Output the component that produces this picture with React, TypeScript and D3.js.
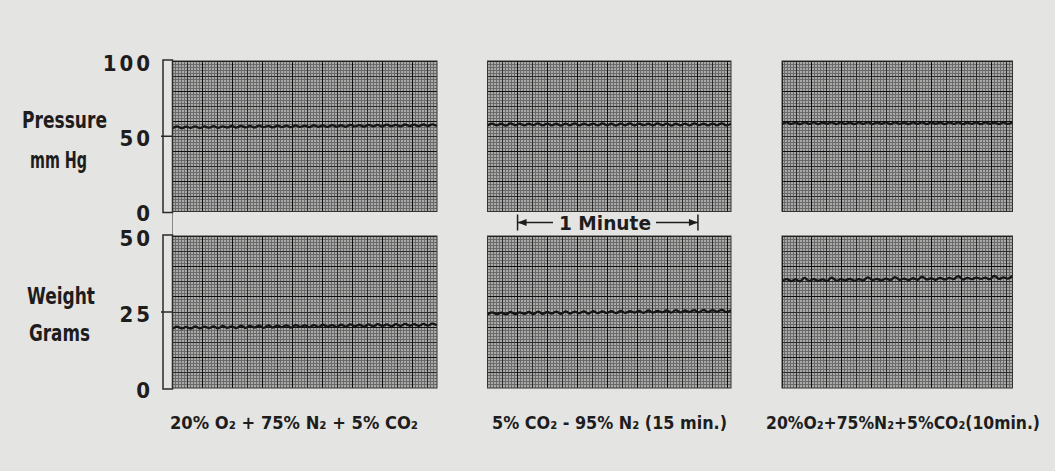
import React from 'react';
import * as d3 from 'd3';

// recording conditions
const conditions = [
  '20% O₂ + 75% N₂ + 5% CO₂',
  '5% CO₂ - 95% N₂ (15 min.)',
  '20%O₂+75%N₂+5%CO₂(10min.)',
];
// seconds of chart paper shown in each strip
const stripSeconds = [88, 81, 77];

const pressureTicks = [0, 50, 100];
const weightTicks = [0, 25, 50];

// traces, one sample every ~1.5 s
const pressureA = [
  55.3, 56.5, 55.4, 56.4, 55.6, 56.6, 55.5, 56.5, 55.7, 56.7,
  55.6, 56.6, 55.8, 56.8, 55.7, 56.9, 55.9, 56.8, 55.8, 57.0,
  56.0, 56.9, 55.9, 57.1, 56.1, 57.0, 56.0, 57.2, 56.2, 57.1,
  56.1, 57.3, 56.3, 57.2, 56.2, 57.4, 56.4, 57.3, 56.3, 57.5,
  56.5, 57.4, 56.4, 57.6, 56.6, 57.5, 56.5, 57.7, 56.7, 57.6,
  56.6, 57.8, 56.8, 57.7, 56.7, 57.8, 56.9, 57.9, 56.8,
];
const pressureB = [
  57.2, 58.4, 57.3, 58.3, 57.1, 58.5, 57.3, 58.4, 57.2, 58.3,
  57.4, 58.5, 57.2, 58.4, 57.3, 58.3, 57.1, 58.4, 57.3, 58.5,
  57.2, 58.3, 57.4, 58.4, 57.2, 58.5, 57.3, 58.3, 57.1, 58.4,
  57.3, 58.5, 57.2, 58.4, 57.4, 58.3, 57.2, 58.5, 57.3, 58.4,
  57.1, 58.3, 57.3, 58.4, 57.2, 58.5, 57.4, 58.3, 57.2, 58.4,
  57.3, 58.5, 57.2, 58.3,
];
const pressureC = [
  58.1, 59.2, 58.2, 59.1, 58.0, 59.3, 58.2, 59.2, 58.1, 59.1,
  58.3, 59.3, 58.1, 59.2, 58.2, 59.1, 58.0, 59.2, 58.2, 59.3,
  58.1, 59.1, 58.3, 59.2, 58.1, 59.3, 58.2, 59.1, 58.0, 59.2,
  58.2, 59.3, 58.1, 59.2, 58.3, 59.1, 58.1, 59.3, 58.2, 59.2,
  58.0, 59.1, 58.2, 59.3, 58.1, 59.2, 58.3, 59.1, 58.1, 59.2,
  58.2, 59.3,
];
const weightA = [
  19.5, 20.2, 19.6, 20.1, 19.5, 20.3, 19.6, 20.2, 19.7, 20.3,
  19.6, 20.4, 19.8, 20.3, 19.7, 20.5, 19.8, 20.4, 19.9, 20.5,
  19.8, 20.6, 19.9, 20.5, 20.0, 20.6, 19.9, 20.7, 20.1, 20.6,
  20.0, 20.7, 20.1, 20.8, 20.2, 20.7, 20.1, 20.8, 20.2, 20.9,
  20.3, 20.8, 20.2, 20.9, 20.3, 21.0, 20.4, 20.9, 20.3, 21.0,
  20.4, 21.1, 20.5, 21.0, 20.4, 21.1, 20.5, 21.2, 20.6,
];
const weightB = [
  24.2, 24.9, 24.3, 24.8, 24.2, 25.0, 24.3, 24.9, 24.4, 25.0,
  24.3, 25.1, 24.4, 25.0, 24.5, 25.1, 24.4, 25.2, 24.5, 25.1,
  24.6, 25.2, 24.5, 25.3, 24.6, 25.2, 24.7, 25.3, 24.6, 25.4,
  24.7, 25.3, 24.8, 25.4, 24.7, 25.5, 24.8, 25.4, 24.9, 25.5,
  24.8, 25.6, 24.9, 25.5, 25.0, 25.6, 24.9, 25.7, 25.0, 25.6,
  25.1, 25.7, 25.0, 25.6,
];
const weightC = [
  35.1, 35.8, 35.2, 35.7, 35.1, 36.2, 35.2, 35.8, 35.3, 35.7,
  35.2, 36.3, 35.3, 35.8, 35.4, 35.9, 35.3, 35.8, 35.4, 36.4,
  35.5, 35.9, 35.4, 36.0, 35.5, 36.5, 35.6, 36.0, 35.5, 36.1,
  35.6, 36.6, 35.7, 36.1, 35.6, 36.2, 35.7, 36.2, 35.8, 36.8,
  35.7, 36.2, 35.8, 36.3, 35.9, 36.3, 35.8, 36.9, 35.9, 36.4,
  36.0, 36.9,
];

const pressureSeries = [pressureA, pressureB, pressureC];
const weightSeries = [weightA, weightB, weightC];

// the "1 Minute" marker, in seconds of the middle strip
const minuteMark = [10, 70];

const W = 1055;
const H = 471;
const PAPER = '#e4e4e2';
const INK = '#1d1d1d';
const FONT = "'DejaVu Sans Condensed', 'DejaVu Sans', sans-serif";

const stripX = [[172.5, 437], [487.5, 731], [782, 1012.5]];
const topRow = [61, 211.5];
const bottomRow = [236, 388];

function Strip({ x, y, secs, yMax, minor, mid, heavy, values, id }) {
  const xs = d3.scaleLinear().domain([0, secs]).range(x);
  const ys = d3.scaleLinear().domain([0, yMax]).range([y[1], y[0]]);

  const vLines = d3.range(0, secs + 0.001, 1);
  const hLines = d3.range(0, yMax + 0.001, minor);
  const kind = (v, m, h) => {
    const r = Math.round(v * 100);
    if (r % Math.round(h * 100) === 0) return 2;
    if (r % Math.round(m * 100) === 0) return 1;
    return 0;
  };
  const strokes = ['#6a6a6a', '#2c2c2c', '#0e0e0e'];

  const t = d3.scaleLinear().domain([0, values.length - 1]).range([0, secs]);
  const line = d3.line()
    .x((d, i) => xs(t(i)))
    .y((d) => ys(d))
    .curve(d3.curveCardinal);

  const clip = 'clip-' + id;
  return (
    <g>
      <defs>
        <clipPath id={clip}>
          <rect x={x[0]} y={y[0]} width={x[1] - x[0]} height={y[1] - y[0]} />
        </clipPath>
      </defs>
      <rect x={x[0]} y={y[0]} width={x[1] - x[0]} height={y[1] - y[0]} fill="#aaaaa8" />
      <g clipPath={`url(#${clip})`} shapeRendering="crispEdges">
        {[0, 1, 2].map((lvl) => (
          <g key={lvl} stroke={strokes[lvl]} strokeWidth={1}>
            {vLines.filter((v) => kind(v, 5, 10) === lvl).map((v) => (
              <line key={'v' + v} x1={xs(v)} x2={xs(v)} y1={y[0]} y2={y[1]} />
            ))}
            {hLines.filter((v) => kind(v, mid, heavy) === lvl).map((v) => (
              <line key={'h' + v} x1={x[0]} x2={x[1]} y1={ys(v)} y2={ys(v)} />
            ))}
          </g>
        ))}
      </g>
      <rect x={x[0]} y={y[0]} width={x[1] - x[0]} height={y[1] - y[0]} fill="none" stroke="#333" strokeWidth={1} />
      <path d={line(values)} fill="none" stroke="#151515" strokeWidth={2.3} clipPath={`url(#${clip})`} />
    </g>
  );
}

function AxisBar({ y, ticks, yMax }) {
  const ys = d3.scaleLinear().domain([0, yMax]).range([y[1], y[0]]);
  return (
    <g>
      <rect x={163} y={y[0] - 1} width={9.5} height={y[1] - y[0] + 2} fill={PAPER} stroke="#2a2a2a" strokeWidth={1.5} />
      <line x1={161} x2={172.5} y1={ys(yMax / 2)} y2={ys(yMax / 2)} stroke="#2a2a2a" strokeWidth={1.5} />
      {ticks.map((v) => (
        <text
          key={v}
          x={153}
          y={ys(v) + 2}
          textAnchor="end"
          dominantBaseline="central"
          fontFamily={FONT}
          fontSize={22}
          fontWeight="bold"
          letterSpacing={3}
          fill={INK}
        >
          {v}
        </text>
      ))}
    </g>
  );
}

export default function App() {
  const midScale = d3.scaleLinear().domain([0, stripSeconds[1]]).range(stripX[1]);
  const m0 = midScale(minuteMark[0]);
  const m1 = midScale(minuteMark[1]);
  const my = 222.5;

  return (
    <svg width={W} height={H} style={{ position: 'absolute', left: 0, top: 0, background: PAPER }}>
      <rect width={W} height={H} fill={PAPER} />

      {stripX.map((x, i) => (
        <Strip key={'p' + i} id={'p' + i} x={x} y={topRow} secs={stripSeconds[i]} yMax={100}
          minor={2} mid={10} heavy={20} values={pressureSeries[i]} />
      ))}
      {stripX.map((x, i) => (
        <Strip key={'w' + i} id={'w' + i} x={x} y={bottomRow} secs={stripSeconds[i]} yMax={50}
          minor={1} mid={5} heavy={10} values={weightSeries[i]} />
      ))}

      <line x1={172.5} x2={172.5} y1={topRow[1]} y2={bottomRow[0]} stroke="#888" strokeWidth={1} />
      <AxisBar y={topRow} ticks={pressureTicks} yMax={100} />
      <AxisBar y={bottomRow} ticks={weightTicks} yMax={50} />

      <g fontFamily={FONT} fill={INK} fontSize={23} fontWeight="bold">
        <text x={22} y={128} textLength={85} lengthAdjust="spacingAndGlyphs">Pressure</text>
        <text x={30} y={168} textLength={57} lengthAdjust="spacingAndGlyphs">mm Hg</text>
        <text x={27} y={304} textLength={68} lengthAdjust="spacingAndGlyphs">Weight</text>
        <text x={29} y={341} textLength={61} lengthAdjust="spacingAndGlyphs">Grams</text>
      </g>

      <g stroke={INK} strokeWidth={1.5} fill={INK}>
        <line x1={m0} x2={m0} y1={my - 8} y2={my + 8} />
        <line x1={m1} x2={m1} y1={my - 8} y2={my + 8} />
        <line x1={m0} x2={553} y1={my} y2={my} />
        <line x1={656} x2={m1} y1={my} y2={my} />
        <path d={`M${m0},${my}l9,-3.5v7z`} stroke="none" />
        <path d={`M${m1},${my}l-9,-3.5v7z`} stroke="none" />
      </g>
      <text x={605} y={my} textAnchor="middle" dominantBaseline="central" fontFamily={FONT}
        fontSize={19} fontWeight="bold" fill={INK} textLength={92} lengthAdjust="spacingAndGlyphs">1 Minute</text>

      {conditions.map((c, i) => {
        const spans = [[170, 248], [492, 235], [766, 274]][i];
        return (
          <text key={c} x={spans[0]} y={429} fontFamily={FONT} fontSize={18} fontWeight="bold" fill={INK}
            textLength={spans[1]} lengthAdjust="spacingAndGlyphs">
            {c}
          </text>
        );
      })}
    </svg>
  );
}
